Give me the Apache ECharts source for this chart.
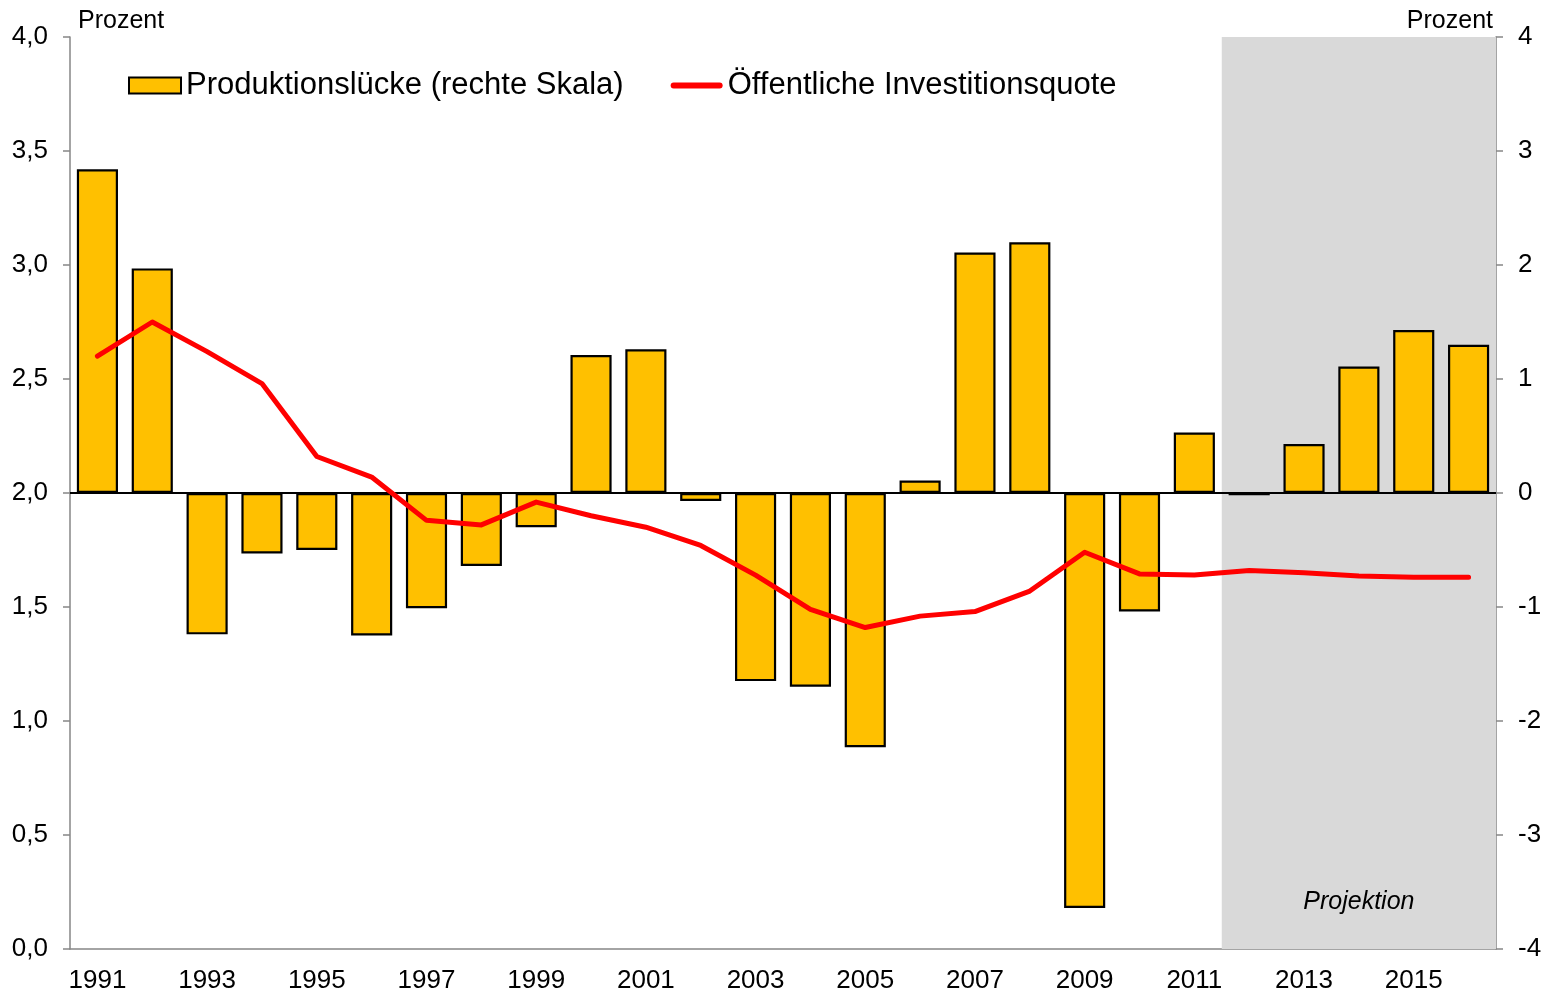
<!DOCTYPE html>
<html>
<head>
<meta charset="utf-8">
<script src="https://cdn.jsdelivr.net/npm/echarts@6/dist/echarts.min.js"></script>
<style>
  html, body { margin: 0; padding: 0; background: #fff; }
  #chart { width: 1554px; height: 995px; }
</style>
</head>
<body>
<div id="chart"></div>
<script>
// Jahre
const years = ['1991', '1992', '1993', '1994', '1995', '1996', '1997', '1998', '1999', '2000',
  '2001', '2002', '2003', '2004', '2005', '2006', '2007', '2008', '2009', '2010',
  '2011', '2012', '2013', '2014', '2015', '2016']
// Produktionslücke (rechte Skala)
const gap = [2.84, 1.97, -1.24, -0.53, -0.50, -1.25, -1.01, -0.64, -0.30, 1.21,
  1.26, -0.07, -1.65, -1.70, -2.23, 0.11, 2.11, 2.20, -3.64, -1.04,
  0.53, -0.02, 0.43, 1.11, 1.43, 1.30]
// Öffentliche Investitionsquote (linke Skala)
const quote = [2.60, 2.75, 2.62, 2.48, 2.16, 2.07, 1.88, 1.86, 1.96, 1.90,
  1.85, 1.77, 1.64, 1.49, 1.41, 1.46, 1.48, 1.57, 1.74, 1.645,
  1.64, 1.66, 1.65, 1.636, 1.63, 1.63]
// Projektionszeitraum
const projection = ['2012', '2016']

const font = "'Liberation Sans', Arial, sans-serif"
const axisGray = '#868686'

const chart = echarts.init(document.getElementById('chart'))
chart.setOption({
  animation: false,
  textStyle: { fontFamily: font, color: '#000' },
  grid: { left: 70, right: 58, top: 37, bottom: 46 },
  legend: {
    left: 123,
    top: 65,
    itemWidth: 52,
    itemHeight: 16,
    itemGap: 47,
    textStyle: { fontSize: 31, color: '#000', fontFamily: font },
    data: [
      { name: 'Produktionslücke (rechte Skala)', icon: 'rect' },
      // rote Linie als Symbol, ohne Punkt
      { name: 'Öffentliche Investitionsquote', icon: 'path://M3,0H49A3,3 0 0 1 49,6H3A3,3 0 0 1 3,0Z' },
    ],
  },
  xAxis: {
    type: 'category',
    data: years,
    boundaryGap: true,
    axisLine: { lineStyle: { color: axisGray, width: 1.5 } },
    axisTick: { interval: 1, length: 7, lineStyle: { color: axisGray, width: 1.5 } },
    axisLabel: { interval: 1, fontSize: 26, color: '#000', margin: 19 },
  },
  yAxis: [
    {
      type: 'value',
      min: 0,
      max: 4,
      interval: 0.5,
      name: 'Prozent',
      nameLocation: 'end',
      nameGap: 16,
      nameTextStyle: { fontSize: 25, color: '#000', align: 'left', verticalAlign: 'middle', padding: [0, 0, 0, 8] },
      splitLine: { show: false },
      axisLine: { show: true, lineStyle: { color: axisGray, width: 1.5 } },
      axisTick: { show: true, length: 7, lineStyle: { color: axisGray, width: 1.5 } },
      axisLabel: {
        fontSize: 26,
        color: '#000',
        margin: 22,
        formatter: (v) => v.toFixed(1).replace('.', ','),
      },
    },
    {
      type: 'value',
      min: -4,
      max: 4,
      interval: 1,
      name: 'Prozent',
      nameLocation: 'end',
      nameGap: 16,
      nameTextStyle: { fontSize: 25, color: '#000', align: 'right', verticalAlign: 'middle', padding: [0, 3, 0, 0] },
      splitLine: { show: false },
      axisLine: { show: true, lineStyle: { color: axisGray, width: 1.5 } },
      axisTick: { show: true, length: 7, lineStyle: { color: axisGray, width: 1.5 } },
      axisLabel: { fontSize: 26, color: '#000', margin: 22 },
    },
  ],
  series: [
    {
      name: 'Produktionslücke (rechte Skala)',
      type: 'bar',
      yAxisIndex: 1,
      data: gap,
      barWidth: '75%',
      itemStyle: { color: '#FFC000', borderColor: '#000', borderWidth: 2.2 },
      markArea: {
        silent: true,
        itemStyle: { color: '#D9D9D9' },
        label: {
          show: true,
          position: 'insideBottom',
          distance: 34,
          fontSize: 25,
          fontStyle: 'italic',
          color: '#000',
          fontFamily: font,
        },
        data: [[{ name: 'Projektion', xAxis: projection[0] }, { xAxis: projection[1] }]],
      },
      markLine: {
        silent: true,
        symbol: 'none',
        label: { show: false },
        lineStyle: { color: '#000', width: 2, type: 'solid' },
        data: [{ yAxis: 0 }],
      },
    },
    {
      name: 'Öffentliche Investitionsquote',
      type: 'line',
      yAxisIndex: 0,
      data: quote,
      symbol: 'none',
      z: 5,
      lineStyle: { color: '#FF0000', width: 5, cap: 'round', join: 'round' },
      itemStyle: { color: '#FF0000' },
    },
  ],
})
</script>
</body>
</html>
